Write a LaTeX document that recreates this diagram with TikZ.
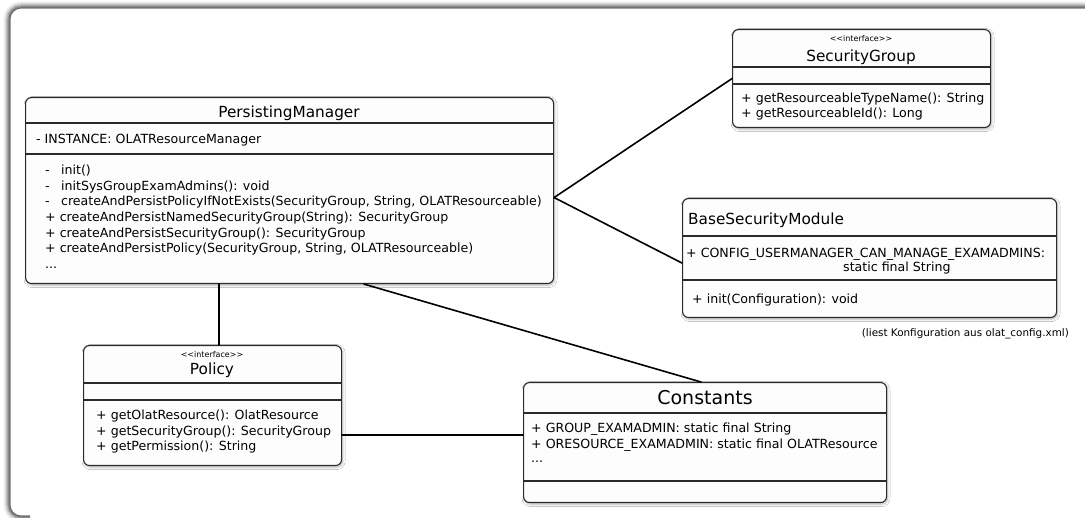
\documentclass[tikz,border=0pt]{standalone}
\usepackage{fontspec}
\setmainfont{DejaVu Sans}
\usetikzlibrary{shadows.blur}

\definecolor{edge}{HTML}{2B2B2B}
\definecolor{boxfill}{HTML}{FDFDFD}

\tikzset{
  classbox/.style={draw=edge, line width=1.1pt, fill=boxfill, rounded corners=6pt,
    inner sep=0pt, anchor=north west,
    blur shadow={shadow xshift=1pt, shadow yshift=-1.5pt, shadow blur steps=6,
      shadow blur radius=2.5pt, shadow opacity=30}},
  divider/.style={draw=edge, line width=1.1pt},
  member/.style={inner sep=0pt, anchor=base west, font=\fontsize{12.6}{14}\selectfont},
  classname/.style={inner sep=0pt, anchor=base, font=\fontsize{15.3}{17}\selectfont},
  bigname/.style={inner sep=0pt, anchor=base, font=\fontsize{19}{21}\selectfont},
  stereo/.style={inner sep=0pt, anchor=base, font=\fontsize{8}{9}\selectfont},
  note/.style={inner sep=0pt, anchor=base east, font=\fontsize{10.4}{12}\selectfont},
  assoc/.style={draw=black, line width=1.6pt, line cap=round},
}

\begin{document}
\begin{tikzpicture}[x=1pt, y=-1pt]
  \useasboundingbox (0,0) rectangle (1085,518);
  \fill[white] (0,0) rectangle (1085,518);

  % soft inset edge of the surrounding panel (top and left)
  \foreach \k/\op in {0/0.55,1/0.45,2/0.34,3/0.24,4/0.15,5/0.08,6/0.04} {
    \draw[black, opacity=\op, line width=1.1pt, rounded corners={11pt+\k pt}]
      (30,{516+\k}) -- ({10-\k},{516+\k}) -- ({10-\k},{8-\k}) -- (1095,{8-\k});
  }

  % ---- PersistingManager ----
  \node[classbox, minimum width=528pt, minimum height=186pt] (pm) at (25,97) {};
  \draw[divider] (25,123) -- (553,123);
  \draw[divider] (25,154) -- (553,154);
  \node[classname] (pmname) at (289,117.5) {PersistingManager};
  \node[member] (pmattr) at (36,143.5) {- INSTANCE: OLATResourceManager};
  \node[member] (pmm1) at (45,174.5) {-\hspace{0.9em}init()};
  \node[member] (pmm2) at (45,190.2) {-\hspace{0.9em}initSysGroupExamAdmins(): void};
  \node[member] (pmm3) at (45,205.8) {-\hspace{0.9em}createAndPersistPolicyIfNotExists(SecurityGroup, String, OLATResourceable)};
  \node[member] (pmm4) at (45,221.5) {+ createAndPersistNamedSecurityGroup(String): SecurityGroup};
  \node[member] (pmm5) at (45,237.1) {+ createAndPersistSecurityGroup(): SecurityGroup};
  \node[member] (pmm6) at (45,252.8) {+ createAndPersistPolicy(SecurityGroup, String, OLATResourceable)};
  \node[member] (pmm7) at (45,268.4) {...};

  % ---- SecurityGroup ----
  \node[classbox, minimum width=258pt, minimum height=98pt] (sg) at (732,29) {};
  \draw[divider] (732,67) -- (990,67);
  \draw[divider] (732,84) -- (990,84);
  \node[stereo] (sgst) at (861,42) {<{}<interface>{}>};
  \node[classname] (sgname) at (861,61.5) {SecurityGroup};
  \node[member] (sgm1) at (741,102.5) {+ getResourceableTypeName(): String};
  \node[member] (sgm2) at (741,117.5) {+ getResourceableId(): Long};

  % ---- BaseSecurityModule ----
  \node[classbox, minimum width=374pt, minimum height=119pt] (bsm) at (682,198) {};
  \draw[divider] (682,236) -- (1056,236);
  \draw[divider] (682,280) -- (1056,280);
  \node[classname, anchor=base west] (bsmname) at (688,224.5) {BaseSecurityModule};
  \node[member] (bsma1) at (686,257.5) {+ CONFIG\_USERMANAGER\_CAN\_MANAGE\_EXAMADMINS:};
  \node[member] (bsma2) at (843,271.5) {static final String};
  \node[member] (bsmm1) at (692,303.5) {+ init(Configuration): void};
  \node[note] (bsmnote) at (1069,336.5) {(liest Konfiguration aus olat\_config.xml)};

  % ---- Policy ----
  \node[classbox, minimum width=258pt, minimum height=120pt] (pol) at (83,345) {};
  \draw[divider] (83,383) -- (341,383);
  \draw[divider] (83,400) -- (341,400);
  \node[stereo] (polst) at (212,357.5) {<{}<interface>{}>};
  \node[classname] (polname) at (212,374.5) {Policy};
  \node[member] (polm1) at (96,419.5) {+ getOlatResource(): OlatResource};
  \node[member] (polm2) at (96,435.5) {+ getSecurityGroup(): SecurityGroup};
  \node[member] (polm3) at (96,450.5) {+ getPermission(): String};

  % ---- Constants ----
  \node[classbox, minimum width=363pt, minimum height=120pt] (con) at (523,382) {};
  \draw[divider] (523,413) -- (886,413);
  \draw[divider] (523,481) -- (886,481);
  \node[bigname] (conname) at (705,405) {Constants};
  \node[member] (cona1) at (531,432.5) {+ GROUP\_EXAMADMIN: static final String};
  \node[member] (cona2) at (531,448.5) {+ ORESOURCE\_EXAMADMIN: static final OLATResource};
  \node[member] (cona3) at (531,462.5) {...};

  % ---- associations ----
  \draw[assoc] ([xshift=194pt]pm.south west) -- ([xshift=136pt]pol.north west);
  \draw[assoc] ([xshift=339pt]pm.south west) -- ([xshift=178pt]con.north west);
  \draw[assoc] ([yshift=-29.5pt]pol.east) -- ([yshift=-29.5pt]pol.east -| con.west);
  \draw[assoc] ([yshift=-7pt]pm.east) -- (sg.west);
  \draw[assoc] ([yshift=-7pt]pm.east) -- ([yshift=-5pt]bsm.west);
\end{tikzpicture}
\end{document}
